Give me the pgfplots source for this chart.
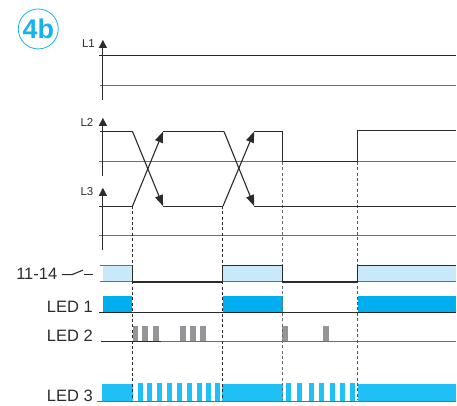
\documentclass[border=0pt]{standalone}
\usepackage{pgfplots}
\pgfplotsset{compat=1.18}
\usepackage{fontspec}
\setmainfont{Liberation Sans}
\usetikzlibrary{arrows.meta}
\definecolor{cy}{HTML}{14B4EE}
\definecolor{lt}{HTML}{C7E9FA}
\definecolor{ledA}{HTML}{00AEEF}
\definecolor{ledC}{HTML}{1FC0F5}
\definecolor{gb}{HTML}{939598}
\definecolor{ink}{HTML}{2B2B2B}
\definecolor{gl}{HTML}{6E6E6E}
\begin{document}
\begin{tikzpicture}[x=1pt,y=1pt]
\begin{axis}[at={(0,0)},anchor=south west,scale only axis,width=457pt,height=406pt,
 xmin=0,xmax=457,ymin=0,ymax=406,y dir=reverse,hide axis,clip=false]
% light fill 11-14
\addplot[fill=lt,draw=none] coordinates {(103,266)(132.5,266)(132.5,282)(103,282)} -- cycle;
\addplot[fill=lt,draw=none] coordinates {(223,266)(283,266)(283,282)(223,282)} -- cycle;
\addplot[fill=lt,draw=none] coordinates {(358,266)(457,266)(457,282)(358,282)} -- cycle;
% LED 1
\addplot[fill=ledA,draw=none] coordinates {(103,296)(132.5,296)(132.5,312.5)(103,312.5)} -- cycle;
\addplot[fill=ledA,draw=none] coordinates {(223,296)(283,296)(283,312.5)(223,312.5)} -- cycle;
\addplot[fill=ledA,draw=none] coordinates {(358,296)(457,296)(457,312.5)(358,312.5)} -- cycle;
% LED 2
\addplot[fill=gb,draw=none] coordinates {(132.7,326)(138,326)(138,341.7)(132.7,341.7)} -- cycle;
\addplot[fill=gb,draw=none] coordinates {(142,326)(148,326)(148,341.7)(142,341.7)} -- cycle;
\addplot[fill=gb,draw=none] coordinates {(153,326)(159,326)(159,341.7)(153,341.7)} -- cycle;
\addplot[fill=gb,draw=none] coordinates {(180,326)(186,326)(186,341.7)(180,341.7)} -- cycle;
\addplot[fill=gb,draw=none] coordinates {(190,326)(196,326)(196,341.7)(190,341.7)} -- cycle;
\addplot[fill=gb,draw=none] coordinates {(200,326)(206,326)(206,341.7)(200,341.7)} -- cycle;
\addplot[fill=gb,draw=none] coordinates {(282.7,326)(288,326)(288,341.7)(282.7,341.7)} -- cycle;
\addplot[fill=gb,draw=none] coordinates {(323,326)(329,326)(329,341.7)(323,341.7)} -- cycle;
% LED 3
\addplot[fill=ledC,draw=none] coordinates {(102,384)(133,384)(133,401.7)(102,401.7)} -- cycle;
\addplot[fill=ledC,draw=none] coordinates {(138,383)(143,383)(143,401.7)(138,401.7)} -- cycle;
\addplot[fill=ledC,draw=none] coordinates {(147,383)(152,383)(152,401.7)(147,401.7)} -- cycle;
\addplot[fill=ledC,draw=none] coordinates {(157,383)(162,383)(162,401.7)(157,401.7)} -- cycle;
\addplot[fill=ledC,draw=none] coordinates {(167,383)(172,383)(172,401.7)(167,401.7)} -- cycle;
\addplot[fill=ledC,draw=none] coordinates {(177,383)(182,383)(182,401.7)(177,401.7)} -- cycle;
\addplot[fill=ledC,draw=none] coordinates {(187,383)(192,383)(192,401.7)(187,401.7)} -- cycle;
\addplot[fill=ledC,draw=none] coordinates {(197,383)(202,383)(202,401.7)(197,401.7)} -- cycle;
\addplot[fill=ledC,draw=none] coordinates {(206,383)(211,383)(211,401.7)(206,401.7)} -- cycle;
\addplot[fill=ledC,draw=none] coordinates {(215,383)(220,383)(220,401.7)(215,401.7)} -- cycle;
\addplot[fill=ledC,draw=none] coordinates {(222,384)(283,384)(283,401.7)(222,401.7)} -- cycle;
\addplot[fill=ledC,draw=none] coordinates {(286,383)(291,383)(291,401.7)(286,401.7)} -- cycle;
\addplot[fill=ledC,draw=none] coordinates {(297,383)(302,383)(302,401.7)(297,401.7)} -- cycle;
\addplot[fill=ledC,draw=none] coordinates {(309,383)(314,383)(314,401.7)(309,401.7)} -- cycle;
\addplot[fill=ledC,draw=none] coordinates {(319,383)(324,383)(324,401.7)(319,401.7)} -- cycle;
\addplot[fill=ledC,draw=none] coordinates {(330,383)(335,383)(335,401.7)(330,401.7)} -- cycle;
\addplot[fill=ledC,draw=none] coordinates {(340,383)(345,383)(345,401.7)(340,401.7)} -- cycle;
\addplot[fill=ledC,draw=none] coordinates {(350,383)(355,383)(355,401.7)(350,401.7)} -- cycle;
\addplot[fill=ledC,draw=none] coordinates {(358,384)(457,384)(457,401.7)(358,401.7)} -- cycle;
% gray reference lines
\addplot[gl,line width=1pt] coordinates {(100,86)(457,86)};
\addplot[gl,line width=1pt] coordinates {(99,161.7)(457,161.7)};
\addplot[gl,line width=1pt] coordinates {(99,236)(457,236)};
\addplot[gl,line width=1pt] coordinates {(101,341.7)(457,341.7)};
\addplot[gl,line width=1pt] coordinates {(97,401.9)(457,401.9)};
\addplot[gl,line width=1pt] coordinates {(100,282.3)(457,282.3)};
\addplot[ink,line width=1.1pt] coordinates {(101,341.7)(161,341.7)};
\addplot[ink,line width=1.1pt] coordinates {(99,312.5)(457,312.5)};
% dashed
\addplot[ink,line width=0.8pt,dash pattern=on 3pt off 2.4pt] coordinates {(132.5,206)(132.5,400)};
\addplot[ink,line width=0.8pt,dash pattern=on 3pt off 2.4pt] coordinates {(222.8,206)(222.8,400)};
\addplot[ink!70,line width=0.8pt,dash pattern=on 3pt off 2.4pt] coordinates {(283,162)(283,400)};
\addplot[ink!80,line width=0.8pt,dash pattern=on 3pt off 2.4pt] coordinates {(358.3,162)(358.3,400)};
% axes with arrowheads
\addplot[ink,line width=1.1pt,-{Triangle[length=8pt,width=8pt]}] coordinates {(103,100)(103,40)};
\addplot[ink,line width=1.1pt,-{Triangle[length=8pt,width=8pt]}] coordinates {(103,176)(103,118)};
\addplot[ink,line width=1.1pt,-{Triangle[length=8pt,width=8pt]}] coordinates {(103,250)(103,188)};
% signals
\addplot[ink,line width=1.1pt] coordinates {(99,55.5)(457,55.5)};
\addplot[ink,line width=1.1pt] coordinates {(100,131.7)(132.7,131.7)};
\addplot[ink,line width=1.1pt,-{Triangle[length=11pt,width=8pt]}] coordinates {(132.7,131.7)(163.3,206.3)};
\addplot[ink,line width=1.1pt] coordinates {(163.3,206.3)(223.3,206.3)};
\addplot[ink,line width=1.1pt,-{Triangle[length=11pt,width=8pt]}] coordinates {(223.3,206.3)(254.5,131.7)};
\addplot[ink,line width=1.1pt] coordinates {(254.5,131.7)(282.7,131.7)(282.7,161.7)(357.7,161.7)(357.7,131)(457,131)};
\addplot[ink,line width=1.1pt] coordinates {(99,206.3)(132.7,206.3)};
\addplot[ink,line width=1.1pt,-{Triangle[length=11pt,width=8pt]}] coordinates {(132.7,206.3)(163.3,131.7)};
\addplot[ink,line width=1.1pt] coordinates {(163.3,131.7)(224.3,131.7)};
\addplot[ink,line width=1.1pt,-{Triangle[length=11pt,width=8pt]}] coordinates {(224.3,131.7)(254.5,206.3)};
\addplot[ink,line width=1.1pt] coordinates {(254.5,206.3)(457,206.3)};
% 11-14 state
\addplot[gl,line width=1pt] coordinates {(100,266)(132.5,266)};
\addplot[ink,line width=1.1pt] coordinates {(132.5,266)(132.5,282.3)(223,282.3)(223,266)(283,266)(283,282.3)(358,282.3)(358,266)(457,266)};
% switch
\addplot[ink,line width=1.1pt] coordinates {(62,275)(72,275)(83,270.5)};
\addplot[ink,line width=1.1pt] coordinates {(84,275)(93,275)};
% labels
\node[cy,font=\bfseries\fontsize{27}{27}\selectfont,inner sep=0pt] at (axis cs:38.3,29) {4b};
\draw[cy,line width=0.8pt] (axis cs:38.3,29) circle [radius=20pt];
\node[ink,font=\fontsize{11.5}{12}\selectfont,inner sep=0pt] at (axis cs:88.5,44) {L1};
\node[ink,font=\fontsize{11.5}{12}\selectfont,inner sep=0pt] at (axis cs:87,122.5) {L2};
\node[ink,font=\fontsize{11.5}{12}\selectfont,inner sep=0pt] at (axis cs:87,192) {L3};
\node[ink,font=\fontsize{16.5}{17}\selectfont,inner sep=0pt,anchor=east] at (axis cs:57.5,274) {11-14};
\node[ink,font=\fontsize{16.5}{17}\selectfont,inner sep=0pt,anchor=east] at (axis cs:93,307) {LED 1};
\node[ink,font=\fontsize{16.5}{17}\selectfont,inner sep=0pt,anchor=east] at (axis cs:93,336) {LED 2};
\node[ink,font=\fontsize{16.5}{17}\selectfont,inner sep=0pt,anchor=east] at (axis cs:93,396) {LED 3};
\end{axis}
\useasboundingbox (0,0) rectangle (457pt,406pt);
\end{tikzpicture}
\end{document}
